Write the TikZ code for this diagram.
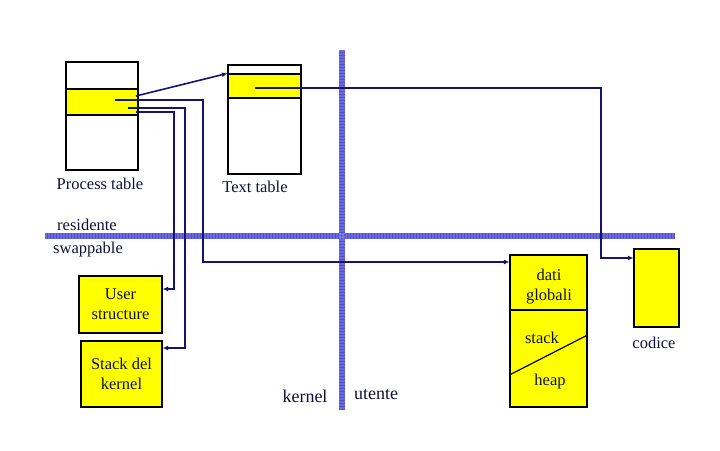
\documentclass[tikz,border=0pt]{standalone}
\usepackage{fontspec}
\setmainfont{Liberation Serif}
\usetikzlibrary{arrows.meta}

\definecolor{linkblue}{RGB}{20,20,110}
\definecolor{wallblue}{RGB}{80,80,215}
\definecolor{boxyellow}{RGB}{255,255,0}
\definecolor{txtnavy}{RGB}{15,15,55}

\tikzset{
    tablebox/.style={draw, line width=1.2pt, fill=white, inner sep=0pt},
    rowbox/.style={draw, line width=1.2pt, fill=boxyellow, inner sep=0pt},
    memblock/.style={draw, line width=1.2pt, fill=boxyellow, inner sep=0pt},
    link/.style={draw=linkblue, line width=1.6pt, -{Latex[length=5.5pt,width=5pt]}},
    wall/.style={wallblue, line width=6pt},
    walltex/.style={white, opacity=0.15, line width=6pt, dash pattern=on 1.5pt off 1.5pt},
    lbl/.style={text=txtnavy, font=\fontsize{16.5}{20}\selectfont, inner sep=0pt, align=center},
    biglbl/.style={lbl, font=\fontsize{18}{21}\selectfont}
}

\begin{document}
\begin{tikzpicture}[x=1pt, y=-1pt]
    \useasboundingbox (0, 0) rectangle (720, 450);

    % tabelle residenti
    \node[tablebox, minimum width=72, minimum height=108] (proc) at (102, 116) {};
    \node[rowbox, minimum width=72, minimum height=26] (procrow) at (102, 102) {};
    \node[tablebox, minimum width=73, minimum height=109] (txt) at (264.5, 119.5) {};
    \node[rowbox, minimum width=73, minimum height=24] (txtrow) at (264.5, 86) {};
    \node[lbl] (proclbl) at (100, 184) {Process table};
    \node[lbl] (txtlbl) at (255, 187) {Text table};

    % zone swappable
    \node[memblock, minimum width=83, minimum height=57] (userstr) at (120.5, 304.5) {};
    \node[lbl] at (userstr) {User\\structure};
    \node[memblock, minimum width=81, minimum height=66] (stackk) at (121.5, 374) {};
    \node[lbl] at (stackk) {Stack del\\kernel};
    \node[memblock, minimum width=77, minimum height=152] (dati) at (548.5, 331) {};
    \draw[line width=1.2pt] (dati.west |- 0, 310) -- (dati.east |- 0, 310);
    \draw[line width=1.2pt] (dati.west |- 0, 375) -- (dati.east |- 0, 335);
    \node[lbl] (datilbl) at (549, 287) {dati\\globali};
    \node[lbl] (stacklbl) at (542, 338) {stack};
    \node[lbl] (heaplbl) at (550, 382) {heap};
    \node[memblock, minimum width=45, minimum height=78] (codice) at (656.5, 288) {};
    \node[lbl] (codicelbl) at (654, 343) {codice};

    % separatori
    \draw[wall] (342, 50) -- (342, 410);
    \draw[wall] (45, 236) -- (675, 236);
    \draw[walltex] (342, 50) -- (342, 410);
    \draw[walltex] (45, 236) -- (675, 236);
    \node[lbl] (res) at (87, 225) {residente};
    \node[lbl] (swap) at (88, 250) {swappable};
    \node[biglbl] (kern) at (305, 396) {kernel};
    \node[biglbl] (ute) at (376, 395) {utente};

    % puntatori
    \coordinate (p1) at (136, 96);
    \coordinate (p2) at (115, 100);
    \coordinate (p3) at (128, 108);
    \coordinate (p4) at (136, 112);
    \coordinate (t1) at (255, 88);
    \coordinate (b2) at (203, 262);
    \coordinate (b3) at (185, 348);
    \coordinate (b4) at (174, 289);
    \coordinate (b5) at (601, 258);

    \draw[link] (p1) -- (txtrow.north west);
    \draw[link] (p2) -| (b2) -- (b2 -| dati.west);
    \draw[link] (p3) -| (b3) -- (b3 -| stackk.east);
    \draw[link] (p4) -| (b4) -- (b4 -| userstr.east);
    \draw[link] (t1) -| (b5) -- (b5 -| codice.west);
\end{tikzpicture}
\end{document}
